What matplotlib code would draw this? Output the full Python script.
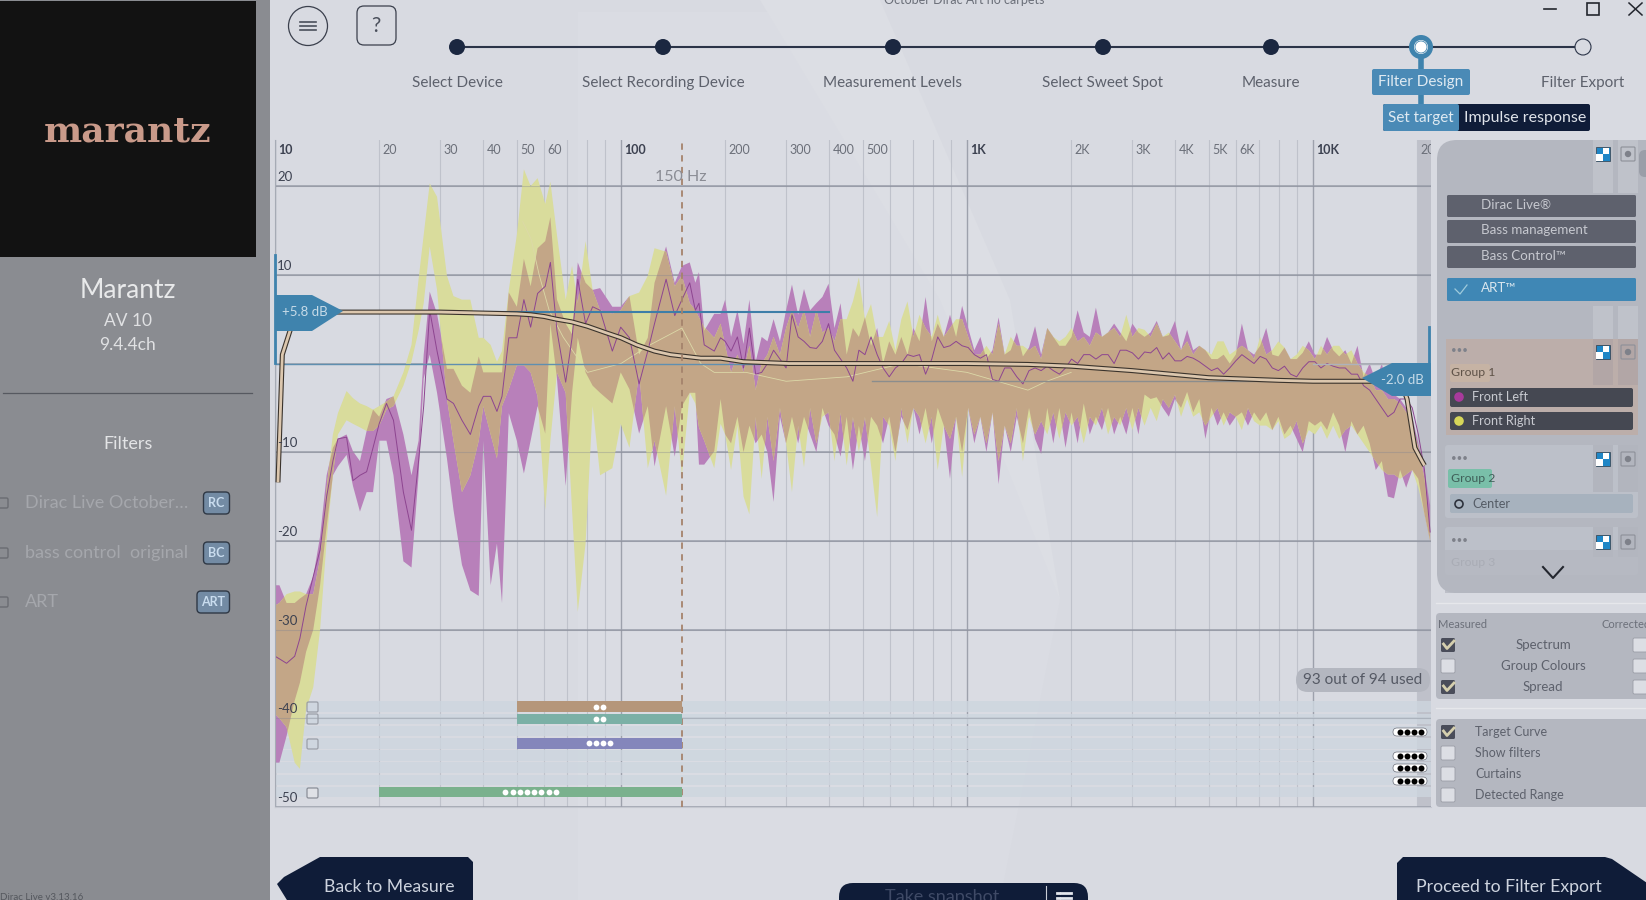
# Filter design screen: measured spread, target curve and the UI round it
import numpy as np
import matplotlib
matplotlib.use('Agg')
import matplotlib.pyplot as plt
from matplotlib.patches import FancyBboxPatch, Circle, Rectangle
from matplotlib.transforms import offset_copy

plt.rcParams['font.family'] = ['Lato', 'DejaVu Sans']

# Measured response, frequency in Hz and level in dB
freq_hz = [10.0, 10.3, 10.8, 11.4, 11.8, 12.3, 12.9, 13.5, 14.1, 14.7, 15.2, 16.1, 16.8, 17.6, 18.4, 19.2,
           20.0, 21.0, 22.0, 23.5, 24.8, 26.0, 26.9, 28.0, 29.4, 31.4, 32.8, 34.7, 36.7, 38.8, 40.0, 42.0,
           43.8, 45.3, 47.4, 50.0, 52.4, 54.8, 57.4, 60.4, 62.5, 65.3, 69.2, 72.2, 75.0, 79.0, 82.8, 87.0,
           94.4, 99.8, 105.8, 112.8, 119.5, 125, 135, 143, 150, 158, 164, 168, 174, 186, 194,
           200, 208, 217, 226, 235, 245, 255, 265, 276, 288, 300, 312, 325, 338, 352, 367, 382, 398, 414, 431,
           449, 468, 487, 507, 528, 550, 572, 596, 621, 646, 673, 700, 729, 759, 791, 823, 857, 893, 930, 968,
           1008, 1050, 1093, 1138, 1185, 1234, 1285, 1338, 1393, 1451, 1511, 1573, 1638, 1706, 1776, 1849,
           1926, 2005, 2088, 2175, 2264, 2358, 2455, 2557, 2662, 2772, 2887, 3006, 3130, 3260, 3394, 3534,
           3680, 3832, 3991, 4155, 4327, 4506, 4692, 4886, 5088, 5298, 5517, 5745, 5982, 6229, 6487, 6755,
           7034, 7325, 7627, 7943, 8271, 8613, 8969, 9339, 9725, 10127, 10545, 10981, 11435, 11907, 12399,
           12912, 13445, 14001, 14579, 15182, 15809, 16462, 17143, 17851, 18589, 19357, 20157, 21000, 21800]

front_left_hi = [-25, -25, -27, -27, -26.5, -26, -24, -19.5, -12.6, -9.5, -8.5, -8, -9.9, -11, -7.6, -5.2,
                 -6, -4, -3.7, -8, -12.6, -8.7, 1, 8.1, 5.6, -0.6, -0.6, -2.5, -3.3, 0.8, -1, -1,
                 -1, -1, 8, 6.4, 11.8, 8.7, 13, 13.8, 16.5, 7.2, 4.5, 3.3, 11.4, 9.1, 8.3, 8.5,
                 6.4, 6.4, 7.6, 1, 2.9, 9.1, 13.2, 9.1, 11, 11.4, 9.1, 10.3, 3.7, 5.6, 5.6,
                 7.2, 3, 6, 2.2, 7.2, 0.2, 3, 2.5, 5, 2.5, 6, 8.9, 5.5, 8.4, 6, 6.8, 7.5, 9, 4, 6.8,
                 1, 4, 3, 5.2, 2, 4, 0, 2.5, 1, 3, 1, 4, 2.5, 7.5, 2.5, 4.5, 3, 5.5, 3, 6.5,
                 4, 1.5, 3, 0.5, 1.5, 5.2, 1, 1.5, 3.5, 0.8, 1.8, 4.2, 1, 4, 3, 2, 2,
                 3, 6, 3.5, 3, 6.3, 3, 3.5, 4.5, 3.5, 2.5, 4.5, 3.5, 3, 3.5, 4.8, 3,
                 3.2, 4.8, 1.5, 3.8, 1.5, 2, 1.5, 0.5, 0.5, 1, 0, 1, 4.5, 1.5, 1, 2, 4,
                 1, 0.8, 1.8, 0.5, 0.5, 1.2, 2.5, 1, 1, 3, 1.5, 0.8, 1.5, 0, 2,
                 -1.5, 0, -2, 0, -3, -3.5, -4, -5, -6, -9, -12, -16]
front_left_lo = [-45, -45, -42, -38, -36, -32.5, -30, -25, -18.4, -12.6, -11.6, -10.3, -13.8, -16.7, -14.5, -14.5,
                 -8.7, -8.7, -12.6, -22.3, -23, -12.6, -1.7, 1, -3.3, -10.7, -16.5, -22.7, -25.6, -26.2, -8.7, -25,
                 -20.3, -27, -5.6, -8.7, -12.4, -8.7, -4.8, -7.9, 4.5, -1.7, -13.8, -3.3, 2.9, -1, -2.5, -3.3,
                 -4.5, -1, -2.9, -7.9, -4.8, -11.6, -4.8, -10.5, -4.8, -3.3, -3.3, -11.4, -11.4, -9.9, -4,
                 -8, -9, -6, -10, -7, -9, -8, -10, -15.6, -6, -9, -6, -9, -6, -8, -10, -5, -7, -8, -10.5,
                 -6, -12, -7, -11, -6, -7, -9, -6, -10, -6, -7.5, -5, -8, -5, -9, -5, -7, -13, -6, -10,
                 -5, -9, -6, -10, -5.5, -13.6, -7, -10, -6, -9, -5, -8.5, -10.2, -5, -9, -5, -9.5,
                 -5.5, -9, -4.5, -8, -6, -7.5, -5, -8, -6, -8, -5, -8, -3.5, -4, -3.8, -5,
                 -6, -4, -5, -3.2, -5.5, -4, -8.5, -5, -7, -5.5, -7, -6, -5.5, -7, -5.5, -6.5, -5.5,
                 -7.5, -6, -8, -7, -8.5, -10, -6.5, -7, -6.5, -7.5, -5.5, -7, -10, -6.5, -8,
                 -7, -9, -12, -11, -15, -15.2, -12, -14, -12, -13, -17, -20]
front_right_hi = [-27.3, -27, -26, -25.7, -25.7, -26, -26, -22, -14, -8, -5.6, -3.1, -3.9, -4.5, -4.8, -5.2,
                  -4.8, -4.3, -3.7, -1, 2.1, 9.5, 14.5, 20.3, 18.8, 9.9, 7.6, 7.2, 7.2, 2.9, 2.9, 2.1,
                  0.2, 1.4, 8.3, 14.5, 21.9, 20, 20.9, 18, 20.5, 14.5, 7.2, 11, 6.8, 13.8, 8.3, 6,
                  5.6, 6, 7.6, 8, 9.9, 13, 12.6, 8.7, 9.9, 6.8, 6, 5.2, 4.1, 2.9, 4.5,
                  2, -1, 1, -1, 2, -3, 0, 1, 3, 1, 4, 6, 4, 6, 3, 6, 3.5, 4, 2.5, 5,
                  5, 7, 9.7, 5, 6.7, 3, 3, 4.8, 1.5, 5, 7, 3, 5.5, 4, 3, 5.5, 3, 4, 5, 5,
                  3, 1, 1, 2, 1, 4.5, 1, 3, 2, 2, 1.5, 2, 0.5, 4, 3, 2.5, 3,
                  4, 2.5, 3, 2, 3.5, 3, 3.5, 4, 3, 5.5, 3, 4, 3.8, 3, 4.5, 3,
                  3.5, 2.5, 1.5, 2.5, 1, 2, 1.5, 1, 2.5, 2.5, 1, 1.5, 2, 1.5, 0.5, 3, 1,
                  1.5, 2.5, 1.8, 0.5, 1, 2, 1.5, 0.5, 2, 1, 2, 2, 1, 1.5, 0,
                  -1, -1.5, -3, -3, -4, -4, -4.5, -5.5, -7, -9.5, -13, -19]
front_right_lo = [-39.5, -40, -41, -45, -45.7, -39, -36.5, -30, -20, -12.6, -8, -6.4, -6.8, -7.2, -7.6, -7.6,
                  -7, -5.2, -4.8, -2.5, 0.2, 3.7, 6.8, 13.2, 8.3, -4, -8.7, -14.5, -12.6, -8.7, -4.8, -8,
                  -10.7, -4.8, -2.9, -0.2, -0.2, -1, -3.7, -16.5, -8.7, -1, -3.3, -16.5, -28, -20.3, -4.8, -12.6,
                  -11.8, -6.8, -9.5, -1, -11.8, -8.7, -14.9, -4.8, -12.6, -3.3, -4.5, -7.2, -8.7, -11.8, -6.8,
                  -8, -12, -7, -15, -17, -6, -13, -6, -11, -5, -9, -14.5, -7, -11.7, -5, -9, -6, -5.5, -11, -5.5,
                  -11.5, -6, -10, -6, -11.5, -17.3, -6, -7, -11, -5, -9, -5, -6, -9, -6, -12, -7, -8.5, -6, -12.8,
                  -5, -8, -6, -9, -5.5, -11, -7, -9, -5, -11, -6, -8, -6.5, -8, -5.5, -8.5, -5.5,
                  -7, -6, -9, -6, -7, -5, -8, -6, -7, -5, -7.5, -5, -7, -5, -6.5, -4,
                  -5, -3.5, -6, -4, -6, -5.5, -7, -6, -5, -7, -5.5, -6, -7.5, -5, -6.5, -7, -7,
                  -7.5, -6.5, -8.5, -8, -6.5, -9, -7.5, -8, -7, -8.5, -7, -8.5, -7.5, -7, -8,
                  -9, -10, -11, -12, -12.5, -12.5, -13, -12.5, -12, -14, -17, -20]
front_left_mean = [-33, -33.3, -33.8, -33, -31, -27.3, -24, -21, -15, -11, -8.5, -8.3, -13.2, -12.6, -12.2, -9.5,
                   -6.8, -4.5, -6.4, -14.5, -18.8, -11, -4.8, 6, 1.4, -4, -4.5, -6.4, -8, -4.8, -3.7, -3.7,
                   -5.4, -3.7, 2.9, 2.9, 7.2, 4.1, 7.9, 8.7, 11.4, 3.7, -2.1, 2.9, 9.5, 4.5, 6.4, 6,
                   1.4, 4.1, 2.9, -2.3, 1.4, 4.5, 9.5, 5.4, 7.2, 9.1, 6, 6.8, 2.1, 1.4, 2.9,
                   2.5, 1.4, 3, -0.5, 4, -1.2, -1, 0, 1.5, 0.5, -0.5, 5.5, 3, 2.5, 1.8, 1.7, 2.5, 4.5, 1.5, 0.5,
                   -0.5, -2, 1.5, 1, 3, 1, -0.5, -1.5, -0.5, 0, 1, 0.8, 1, -1.2, 0.5, 3, 1.8, 2, 2.5, 2,
                   1.8, 1, 0.6, 1, -1.8, -2, -0.5, -0.5, -1.5, -2.3, -0.8, -0.5, -0.8, -0.3, -0.8, -1.2, -0.5,
                   0.5, 0, 1, 1, 0.5, 1, 1, 0, 1.5, 1.5, 1.2, 0.5, 1.3, 1.2, 1.8, 0.5,
                   1.2, 0.3, 0.3, 0.8, 0.6, 0.2, -0.3, -0.8, -0.5, -1.2, -0.5, 0.3, 1, 0.5, 0, 0.8, 0.5,
                   -0.5, -0.8, -0.3, -1.2, -1.5, -0.5, 0.2, 0.2, -0.5, 0, -0.3, -0.5, -0.5, -1.2, -1.2,
                   -2.5, -3, -4, -5, -6, -5.5, -4, -4, -5, -8, -12, -19]

front_right_mean_hz = [52, 55, 58, 62, 68, 80, 100, 120, 150, 170, 186, 230, 300, 450, 650, 1000, 1500, 1700, 2000]
front_right_mean_db = [16, 14, 10, 6, 3, -1, 0, 2, 4, 0, -1, -1, -2, -1.5, 0, -1, -3, -2, -1]

# Target curve
target_hz = [10.2, 10.5, 11.5, 13, 30, 50, 54.8, 60, 65, 72, 80, 90, 100, 111, 125, 139, 170, 194, 226, 305,
             1000, 1500, 2000, 3000, 5000, 8000, 10000, 15000, 18000, 18700, 19700, 20650, 21000]
target_db = [-13.4, 1, 5.8, 5.8, 5.8, 5.6, 5.5, 5.3, 5, 4.7, 4.2, 3.5, 2.9, 2.1, 1.4, 1, 0.6, 0.6, 0.2, 0,
             0, -0.1, -0.3, -0.8, -1.6, -1.9, -2, -2, -2.2, -4, -9.5, -11, -11.5]

# Filter range rows under the curves
filter_rows = [0, 1, 3, 7]
filter_start_hz = [50, 50, 50, 20]
filter_end_hz = [150, 150, 150, 150]
filter_dots = [2, 2, 4, 8]
filter_colors = ['#b5967a', '#7bb0a6', '#8486bb', '#7ab18d']

major_hz = [10, 100, 1000, 10000]
minor_hz = [20, 30, 40, 50, 60, 70, 80, 90, 200, 300, 400, 500, 600, 700, 800, 900,
            2000, 3000, 4000, 5000, 6000, 7000, 8000, 9000, 20000]
x_labels_hz = [10, 20, 30, 40, 50, 60, 100, 200, 300, 400, 500, 1000, 2000, 3000, 4000, 5000, 6000, 10000, 20000]
x_labels = ['10', '20', '30', '40', '50', '60', '100', '200', '300', '400', '500',
            '1K', '2K', '3K', '4K', '5K', '6K', '10K', '20']
y_ticks = [20, 10, 0, -10, -20, -30, -40, -50]
y_labels = ['20', '10', '', '-10', '-20', '-30', '-40', '-50']

steps = ['Select Device', 'Select Recording Device', 'Measurement Levels', 'Select Sweet Spot',
         'Measure', 'Filter Design', 'Filter Export']
step_x = [457, 663, 893, 1103, 1271, 1421, 1583]

BG = '#d8dae1'
NAVY = '#0f1c38'
BLUE = '#3f83ad'
PANEL = '#b4b7c0'
TEXT = '#5d616c'

fig = plt.figure(figsize=(16.46, 9), dpi=100, facecolor=BG)


def ui_axes(zorder):
    a = fig.add_axes([0, 0, 1, 1], zorder=zorder)
    a.set_xlim(0, 1646)
    a.set_ylim(900, 0)
    a.axis('off')
    a.patch.set_alpha(0)
    return a


back = ui_axes(0)
front = ui_axes(3)


def box(a, x0, y0, x1, y1, color, r=2, ec='none', lw=0, z=2):
    a.add_patch(FancyBboxPatch((x0, y0), x1 - x0, y1 - y0, boxstyle=f'round,pad=0,rounding_size={r}',
                               fc=color, ec=ec, lw=lw, zorder=z))


def label(a, x, y, s, size=11, color=TEXT, ha='center', **kw):
    return a.text(x, y, s, fontsize=size, color=color, ha=ha, va='center', zorder=6, **kw)


# faint swoosh of the background
back.fill([578, 790, 880, 1000, 1060, 1000, 880, 700, 578], [12, 12, 60, 300, 600, 900, 900, 900, 900],
          color='#dadce3', lw=0)
back.fill([760, 880, 1010, 1060, 1020, 940], [0, 0, 300, 600, 500, 300], color='#dcdee4', lw=0)

# ---------- chart ----------
ax = fig.add_axes([275 / 1646, (900 - 807) / 900, (1431 - 275) / 1646, (807 - 140) / 900], zorder=1)
ax.patch.set_alpha(0)
ax.set_xscale('log')
ax.set_xlim(10, 21930)
ax.set_ylim(-50, 25.2)
for s in ax.spines.values():
    s.set_visible(False)
ax.spines['left'].set_visible(True)
ax.spines['left'].set_color('#a6abb5')
ax.spines['bottom'].set_visible(True)
ax.spines['bottom'].set_color('#c4c7cf')
ax.set_xticks(major_hz)
ax.set_xticks(minor_hz, minor=True)
ax.set_yticks(y_ticks)
ax.tick_params(which='both', length=0, labelbottom=False, labelleft=False)
ax.grid(True, which='major', axis='x', color='#9da1ac', lw=1)
ax.grid(True, which='minor', axis='x', color='#bfc2cb', lw=0.8)
ax.grid(True, which='major', axis='y', color='#9a9eaa', lw=1.1)
ax.set_axisbelow(True)

# right curtain
ax.axvspan(20000, 21930, color='#b9bbc5', alpha=0.8, lw=0, zorder=0.5)

# filter rows
for i in range(8):
    mid = -38.7 - 1.375 * i
    ax.barh(mid, 21930 - 10, left=10, height=1.2, color='#cdd6df', alpha=0.8, lw=0, zorder=0.6)

# spread bands, tan where the two overlap
hz = np.array(freq_hz)
x_poly = np.concatenate([hz, hz[::-1]])
left_poly = ax.fill(x_poly, np.concatenate([front_left_hi, front_left_lo[::-1]]), color='#b880ba', lw=0, zorder=1)[0]
right_poly = ax.fill(x_poly, np.concatenate([front_right_hi, front_right_lo[::-1]]), color='#d9dc9c', lw=0, zorder=1.1)[0]
both = ax.fill(x_poly, np.concatenate([front_right_hi, front_right_lo[::-1]]), color='#c3a687', lw=0, zorder=1.2)[0]
both.set_clip_path(left_poly)

# level lines show faintly through the bands
ax.hlines([20, 10, -10, -20, -30, -40], 10, 21930, color='#7f8390', lw=0.8, alpha=0.35, zorder=1.3)

ax.plot(front_right_mean_hz, front_right_mean_db, color='#dcd9a8', lw=0.6, zorder=1.4)
ax.plot(freq_hz, front_left_mean, color='#8d4590', lw=0.7, zorder=1.5)

# level lines of the target handles
ax.plot([10, 250], [0, 0], color='#5f8fb0', lw=1, zorder=2)
ax.plot([13, 400], [5.8, 5.8], color='#3d7ea8', lw=1.5, zorder=2)
ax.plot([530, 18000], [-2, -2], color='#8b8d8d', lw=1, zorder=2)
ax.plot([10000, 21930], [0, 0], color='#aeb2bb', lw=1, zorder=2)

ax.plot(target_hz, target_db, color='#3a332c', lw=3.6, zorder=4, solid_capstyle='butt')
ax.plot(target_hz, target_db, color='#dcc7ae', lw=2, zorder=4.1, solid_capstyle='butt')

# 150 Hz marker
ax.axvline(150, color='#a5836c', lw=1.3, ls=(0, (3.5, 3)), zorder=4.5)
ax.annotate('150 Hz', (150, 21), xytext=(-1, 0), textcoords='offset pixels', ha='center', va='center',
            fontsize=11.5, color='#8a8c94', zorder=5)

# filter bars with the dots of their channels
dot_tf = ax.transData
for row, start, end, n, col in zip(filter_rows, filter_start_hz, filter_end_hz, filter_dots, filter_colors):
    mid = -38.7 - 1.375 * row
    ax.barh(mid, end - start, left=start, height=1.2, color=col, lw=0, zorder=5)
    centre = np.sqrt(start * end)
    for k in range(n):
        tf = offset_copy(dot_tf, fig=fig, x=(k - (n - 1) / 2) * 7.2, y=0, units='dots')
        ax.plot([centre], [mid], 'o', ms=4.2, color='white', mew=0, transform=tf, zorder=6)

# axis numbers sit inside the plot
for f, s in zip(x_labels_hz, x_labels):
    bold = f in major_hz
    ax.annotate(s, (f, 1), xycoords=ax.get_xaxis_transform(), xytext=(3, -10), textcoords='offset pixels',
                ha='left', va='center', fontsize=9, color='#3c4150' if bold else '#6b6f79',
                fontweight='bold' if bold else 'normal', zorder=6, annotation_clip=False, clip_on=True)
for v, s in zip(y_ticks, y_labels):
    ax.annotate(s, (0, v), xycoords=ax.get_yaxis_transform(), xytext=(2, 9), textcoords='offset pixels',
                ha='left', va='center', fontsize=9.5, color='#3c4150', zorder=6)

# handles
front.plot([275.5, 275.5], [255, 363], color=BLUE, lw=2, zorder=2)
front.fill([275, 312, 343, 312, 275], [295, 295, 311, 331, 331], color=BLUE, lw=0, zorder=5)
label(front, 305, 312, '+5.8 dB', 9.5, '#c7dbe8')
front.plot([1429, 1429], [327, 363], color=BLUE, lw=2, zorder=2)
front.fill([1362, 1392, 1431, 1431, 1392], [378, 363, 363, 396, 396], color=BLUE, lw=0, zorder=5)
label(front, 1402, 380, '-2.0 dB', 9.5, '#c7dbe8')

# checkboxes and pills of the filter rows
for y in [707, 719, 744]:
    box(front, 307, y - 5, 318, y + 5, 'none', r=1.5, ec='#9b9fa8', lw=0.9)
box(front, 307, 788, 318, 798, '#dfe1e6', r=1.5, ec='#8b8f98', lw=0.9)
for y in [732, 756, 768, 781]:
    box(front, 1393, y - 4, 1427, y + 4, 'white', r=4, ec='#6b6f79', lw=0.5)
    front.plot([1400.5 + 7 * k for k in range(4)], [y] * 4, 'o', ms=4.3, color='black', mew=0, zorder=6)
box(front, 1296, 668, 1430, 692, PANEL, r=12)
label(front, 1363, 680, '93 out of 94 used', 11, '#555964')

# ---------- side bar ----------
front.add_patch(Rectangle((0, 0), 270, 900, fc='#8a8c91', lw=0, zorder=1))
front.add_patch(Rectangle((0, 1), 256, 256, fc='#121212', lw=0, zorder=2))
label(front, 128, 131, 'marantz', 26, '#c99a8a', family='DejaVu Serif', fontweight='bold')
label(front, 128, 290, 'Marantz', 19, '#e8e9ea')
label(front, 128, 321, 'AV 10', 12.5, '#e0e1e3')
label(front, 128, 345, '9.4.4ch', 12.5, '#e0e1e3')
front.plot([3, 252], [393, 393], color='#565960', lw=0.9, zorder=2)
label(front, 128, 444, 'Filters', 13, '#e3e4e6')
filter_names = ['Dirac Live October\u2026', 'bass control  original', 'ART']
badges = ['RC', 'BC', 'ART']
for y, name, b in zip([503, 553, 602], filter_names, badges):
    box(front, -3, y - 5, 8, y + 5, 'none', r=1.5, ec='#6a6c72', lw=1, z=3)
    label(front, 25, y, name, 13, '#a5a7ac', ha='left')
    x0 = 197 if b == 'ART' else 203.5
    box(front, x0, y - 11, 229.5, y + 11, '#738ba4', r=4, ec='#2f3845', lw=1, z=3)
    label(front, (x0 + 229.5) / 2, y, b, 9, '#c9dcee', fontweight='bold')
label(front, 0, 897, 'Dirac Live v3.13.16', 7, '#55585e', ha='left')

# ---------- top bar ----------
label(front, 964, 0, 'October Dirac Art no carpets', 9, '#6b6f79')
back.plot([step_x[0], step_x[-1]], [47, 47], color='#2b3448', lw=1.5, zorder=2)
for i, (x, s) in enumerate(zip(step_x, steps)):
    if i < 5:
        front.add_patch(Circle((x, 47), 8, fc='#1b2740', ec='none', zorder=3))
        label(front, x, 83, s, 11, TEXT)
    elif i == 5:
        front.plot([x, x], [47, 110], color=BLUE, lw=4, zorder=2)
        front.add_patch(Circle((x, 47), 12, fc=BLUE, ec='none', zorder=3))
        front.add_patch(Circle((x, 47), 7, fc='white', ec='none', zorder=4))
        front.add_patch(Circle((x, 47), 6, fc='none', ec=BLUE, lw=0.6, zorder=5))
        box(front, 1372, 69, 1470, 95, '#4a8ab6', r=2, z=3)
        label(front, x, 82, s, 11, '#dfeaf2')
    else:
        front.add_patch(Circle((x, 47), 8, fc=BG, ec='#2b3448', lw=0.8, zorder=3))
        label(front, x, 83, s, 11, TEXT)
box(front, 1383, 104, 1590, 131, NAVY, r=2, z=3)
box(front, 1383, 104, 1459, 131, '#4a8ab6', r=2, z=3)
label(front, 1421, 118, 'Set target', 11, '#dfeaf2')
label(front, 1525, 118, 'Impulse response', 11.5, '#dfe3ea')

front.add_patch(Circle((308, 26), 19.5, fc='none', ec='#3a3f4c', lw=0.9, zorder=3))
for y in [22, 26, 30]:
    front.plot([300, 316], [y, y], color='#4a4f5b', lw=1.2, zorder=3)
box(front, 357, 6, 396, 45, 'none', r=7, ec='#3a3f4c', lw=0.9, z=3)
label(front, 376, 26, '?', 15, '#4a4f5b')

front.plot([1544, 1556], [9, 9], color='#23262e', lw=1.2, zorder=3)
front.add_patch(Rectangle((1587, 3), 12, 12, fc='none', ec='#23262e', lw=1.2, zorder=3))
front.plot([1629, 1642], [3, 15], color='#23262e', lw=1.1, zorder=3)
front.plot([1629, 1642], [15, 3], color='#23262e', lw=1.1, zorder=3)

# ---------- right panel ----------
box(front, 1437, 140, 1680, 593, PANEL, r=20, z=1)
for x0 in [1593, 1618]:
    front.add_patch(Rectangle((x0, 140), 20, 53, fc='#bfc2ca', lw=0, zorder=1.1))
    front.add_patch(Rectangle((x0, 306), 20, 33, fc='#bfc2ca', lw=0, zorder=1.1))
box(front, 1639, 150, 1660, 177, '#9a9ea8', r=6, z=1.2)
for (y0, y1, name) in [(195, 217, 'Dirac Live\u00ae'), (220, 243, 'Bass management'), (246, 268, 'Bass Control\u2122')]:
    box(front, 1447, y0, 1636, y1, '#5e616d', r=1.5)
    label(front, 1481, (y0 + y1) / 2 - 1, name, 9.6, '#c6c8cf', ha='left')
box(front, 1447, 278, 1636, 301, '#3f87b5', r=1.5)
label(front, 1481, 288, 'ART\u2122', 9.6, '#d9e6ee', ha='left')
front.plot([1455, 1460, 1467], [289, 294, 285], color='#9fcbdc', lw=0.9, zorder=4)

# channel groups
front.add_patch(Rectangle((1446, 339), 192, 96, fc='#bcaeaa', lw=0, zorder=1.2))
for x0 in [1593, 1618]:
    front.add_patch(Rectangle((x0, 339), 20, 46, fc='#b2a6a6', lw=0, zorder=1.3))
box(front, 1450, 364, 1490, 382, '#c6b3a4', r=2)
label(front, 1451, 373, 'Group 1', 8.8, '#5f5348', ha='left')
box(front, 1450, 388, 1633, 407, '#454852', r=2)
label(front, 1472, 397, 'Front Left', 9.2, '#c8cad0', ha='left')
front.add_patch(Circle((1459, 397), 4.8, fc='#a83a9c', lw=0, zorder=4))
box(front, 1450, 412, 1633, 430, '#454852', r=2)
label(front, 1472, 421, 'Front Right', 9.2, '#c8cad0', ha='left')
front.add_patch(Circle((1459, 421), 4.8, fc='#d6d659', lw=0, zorder=4))

box(front, 1445, 445, 1638, 518, '#bcc0c9', r=3, z=1.2)
for x0 in [1593, 1618]:
    front.add_patch(Rectangle((x0, 445), 20, 47, fc='#b2b5be', lw=0, zorder=1.3))
box(front, 1448, 469, 1492, 488, '#79bfa9', r=2)
label(front, 1451, 479, 'Group 2', 8.8, '#3f5f58', ha='left')
box(front, 1450, 494, 1633, 513, '#a7b2be', r=2)
label(front, 1472, 504, 'Center', 9.2, '#555c66', ha='left')
front.add_patch(Circle((1459, 504), 4, fc='none', ec='#2e333d', lw=1.2, zorder=4))

box(front, 1445, 527, 1638, 575, '#bcc0c9', r=3, z=1.2)
for x0 in [1593, 1618]:
    front.add_patch(Rectangle((x0, 527), 20, 30, fc='#b2b5be', lw=0, zorder=1.3))
label(front, 1451, 562, 'Group 3', 8.8, '#a9acb5', ha='left')
front.add_patch(Rectangle((1445, 550), 193, 43, fc=PANEL, alpha=0.75, lw=0, zorder=5))
front.plot([1543, 1553, 1563], [567, 578, 567], color='#23262e', lw=1.5, zorder=6)

for y in [154, 352, 459, 542]:
    front.add_patch(Rectangle((1596, y - 7), 14, 14, fc='#1f86c6', ec='#20232a', lw=0.4, zorder=4))
    front.add_patch(Rectangle((1596, y), 7, 7, fc='white', lw=0, zorder=5))
    front.add_patch(Rectangle((1603, y - 6), 6, 6, fc='white', lw=0, zorder=5))
    box(front, 1621, y - 7, 1635, y + 7, 'none', r=1, ec='#8d9099', lw=0.8, z=4)
    front.add_patch(Circle((1628, y), 3.2, fc='#7e818a', lw=0, zorder=5))
for y in [352, 459, 542]:
    label(front, 1459, y - 1, '\u2022\u2022\u2022', 7, '#7e818a')

# view options
front.plot([1436, 1646], [603, 603], color='#e6e7eb', lw=1, zorder=1)
front.plot([1436, 1646], [708, 708], color='#e6e7eb', lw=1, zorder=1)
box(front, 1436, 613, 1680, 699, PANEL, r=4, z=1)
box(front, 1436, 719, 1680, 807, PANEL, r=4, z=1)
label(front, 1463, 625, 'Measured', 8, '#6c707a')
label(front, 1602, 625, 'Corrected', 8, '#6c707a', ha='left')


def check(x, y, on):
    if on:
        box(front, x - 7, y - 7, x + 7, y + 7, '#4a4d5a', r=1.5, z=3)
        front.plot([x - 4.5, x - 1, x + 6], [y - 1, y + 3.5, y - 4], color='#d5cfae', lw=2, zorder=4)
    else:
        box(front, x - 7, y - 7, x + 7, y + 7, '#dcdee4', r=1.5, ec='#9a9da6', lw=0.6, z=3)


for y, name, on in zip([645, 666, 687], ['Spectrum', 'Group Colours', 'Spread'], [True, False, True]):
    check(1448, y, on)
    check(1640, y, False)
    label(front, 1543, y, name, 9.5, '#5d616c')
for y, name, on in zip([732, 753, 774, 795], ['Target Curve', 'Show filters', 'Curtains', 'Detected Range'],
                       [True, False, False, False]):
    check(1448, y, on)
    label(front, 1475, y, name, 9, '#5d616c', ha='left')

# ---------- bottom buttons ----------
front.fill([277, 284, 320, 325, 468, 473, 473, 290], [884, 877, 857, 857, 857, 862, 905, 905], color=NAVY, lw=0, zorder=3)
label(front, 389, 887, 'Back to Measure', 12.7, '#cdd3de')
front.fill([1397, 1397, 1403, 1605, 1612, 1650, 1650], [905, 863, 857, 857, 859, 885, 905], color=NAVY, lw=0, zorder=3)
label(front, 1509, 887, 'Proceed to Filter Export', 12.7, '#cdd3de')
box(front, 839, 883, 1088, 920, NAVY, r=14, z=3)
label(front, 942, 897, 'Take snapshot', 13, '#3f4a66')
front.plot([1046, 1046], [886, 900], color='#c9cdd6', lw=0.8, zorder=4)
for y in [893, 898]:
    front.plot([1057, 1059], [y, y], color='#e3e6ec', lw=2, zorder=4)
    front.plot([1061, 1071], [y, y], color='#e3e6ec', lw=2, zorder=4)

fig.savefig('out.png', dpi=100, facecolor=BG)
